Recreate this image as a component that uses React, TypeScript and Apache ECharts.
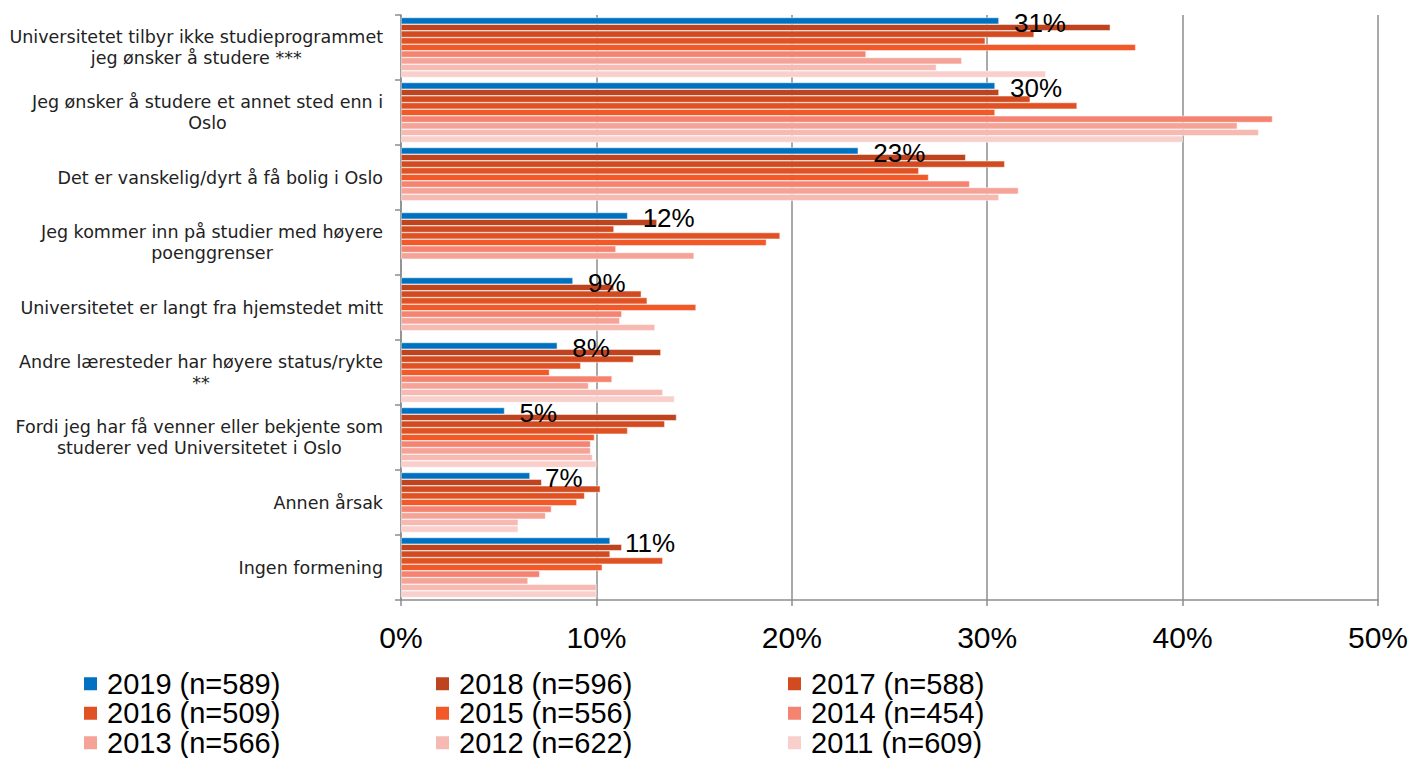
import React, { useEffect, useRef } from "react";
import * as echarts from "echarts";

const categories = [
  "Universitetet tilbyr ikke studieprogrammet\njeg ønsker å studere ***",
  "Jeg ønsker å studere et annet sted enn i\nOslo",
  "Det er vanskelig/dyrt å få bolig i Oslo",
  "Jeg kommer inn på studier med høyere\npoenggrenser",
  "Universitetet er langt fra hjemstedet mitt",
  "Andre læresteder har høyere status/rykte\n**",
  "Fordi jeg har få venner eller bekjente som\nstuderer ved Universitetet i Oslo",
  "Annen årsak",
  "Ingen formening",
];

const seriesNames = [
  "2019 (n=589)",
  "2018 (n=596)",
  "2017 (n=588)",
  "2016 (n=509)",
  "2015 (n=556)",
  "2014 (n=454)",
  "2013 (n=566)",
  "2012 (n=622)",
  "2011 (n=609)",
];

const colors = [
  "#0070C0",
  "#BE4420",
  "#D24A1F",
  "#E05223",
  "#F15A28",
  "#F48371",
  "#F5A297",
  "#F7BAB2",
  "#F9CFCB",
];

const v2019 = [30.6, 30.4, 23.4, 11.6, 8.8, 8.0, 5.3, 6.6, 10.7];
const v2018 = [36.3, 30.6, 28.9, 13.1, 10.9, 13.3, 14.1, 7.2, 11.3];
const v2017 = [32.4, 32.2, 30.9, 10.9, 12.3, 11.9, 13.5, 10.2, 10.7];
const v2016 = [29.9, 34.6, 26.5, 19.4, 12.6, 9.2, 11.6, 9.4, 13.4];
const v2015 = [37.6, 30.4, 27.0, 18.7, 15.1, 7.6, 9.9, 9.0, 10.3];
const v2014 = [23.8, 44.6, 29.1, 11.0, 11.3, 10.8, 9.7, 7.7, 7.1];
const v2013 = [28.7, 42.8, 31.6, 15.0, 11.2, 9.6, 9.7, 7.4, 6.5];
const v2012 = [27.4, 43.9, 30.6, null, 13.0, 13.4, 9.8, 6.0, 10.0];
const v2011 = [33.0, 40.0, null, null, null, 14.0, 10.0, 6.0, 10.0];

const seriesValues = [v2019, v2018, v2017, v2016, v2015, v2014, v2013, v2012, v2011];

const xTicks = [0, 10, 20, 30, 40, 50];

const legendColumns = [
  [0, 3, 6],
  [1, 4, 7],
  [2, 5, 8],
];
const legendLefts = [82, 434, 786];

export default function App() {
  const ref = useRef<HTMLDivElement>(null);

  useEffect(() => {
    if (!ref.current) return;
    const chart = echarts.init(ref.current, undefined, { renderer: "svg" });

    const series = seriesNames.map((name, i) => ({
      name,
      type: "bar",
      data: seriesValues[i].map((v) => (v === null ? "-" : v)),
      barGap: "0%",
      barCategoryGap: "7.7%",
      z: i === 0 ? 3 : 2,
      itemStyle: {
        color: colors[i],
        borderColor: "#ffffff",
        borderWidth: 0.5,
      },
      label:
        i === 0
          ? {
              show: true,
              position: "right",
              distance: 15,
              offset: [0, 2],
              formatter: (p: any) => Math.round(p.value) + "%",
              fontFamily: "Liberation Sans",
              fontSize: 26,
              color: "#000000",
            }
          : { show: false },
    }));

    const legends = legendColumns.map((col, ci) => ({
      orient: "vertical",
      left: legendLefts[ci],
      top: 669,
      height: 120,
      padding: 0,
      itemWidth: 15,
      itemHeight: 15,
      itemGap: 0,
      icon: "rect",
      data: col.map((idx) => seriesNames[idx]),
      textStyle: {
        fontFamily: "Liberation Sans",
        fontSize: 29,
        lineHeight: 29.5,
        color: "#000000",
        padding: [0, 0, 0, 4],
      },
      selectedMode: false,
    }));

    chart.setOption({
      animation: false,
      backgroundColor: "#ffffff",
      grid: { left: 401, right: 34, top: 15, bottom: 158, containLabel: false },
      legend: legends,
      xAxis: {
        type: "value",
        min: xTicks[0],
        max: xTicks[xTicks.length - 1],
        interval: 10,
        axisLine: { show: true, lineStyle: { color: "#8c8c8c", width: 1.5 } },
        axisTick: { show: true, length: 6, lineStyle: { color: "#8c8c8c", width: 1.5 } },
        splitLine: { show: true, lineStyle: { color: "#8c8c8c", width: 1.5 } },
        axisLabel: {
          formatter: "{value}%",
          fontFamily: "Liberation Sans",
          fontSize: 30,
          color: "#000000",
          margin: 22,
        },
      },
      yAxis: {
        type: "category",
        inverse: true,
        data: categories,
        axisLine: { show: true, lineStyle: { color: "#8c8c8c", width: 1.5 } },
        axisTick: { show: true, length: 6, lineStyle: { color: "#8c8c8c", width: 1.5 } },
        axisLabel: {
          margin: 18,
          align: "right",
          formatter: (v: string) =>
            v
              .split("\n")
              .map((l) => "{c|" + l + "}")
              .join("\n"),
          rich: {
            c: {
              fontFamily: "DejaVu Sans",
              fontSize: 17.5,
              lineHeight: 21,
              color: "#222222",
              align: "center",
            },
          },
        },
      },
      series,
    });

    return () => chart.dispose();
  }, []);

  return (
    <div
      ref={ref}
      style={{ position: "absolute", left: 0, top: 0, width: 1412, height: 758 }}
    />
  );
}
